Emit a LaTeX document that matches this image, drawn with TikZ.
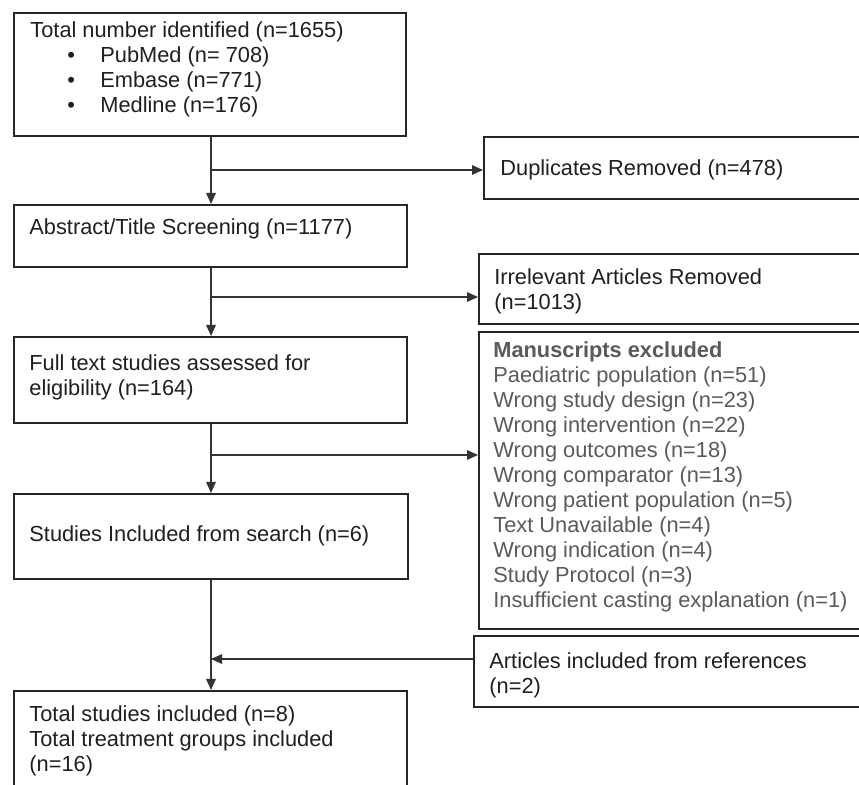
\documentclass[tikz,border=0pt]{standalone}
\usepackage{fontspec}
\setmainfont{Liberation Sans}
\usetikzlibrary{calc,arrows.meta}
\definecolor{boxline}{HTML}{262626}
\definecolor{txtgray}{HTML}{5A5A5A}
\newcommand{\topstrut}{\rule{0pt}{10pt}}
\newcommand{\itm}[1]{\hspace*{18.5pt}\makebox[16.5pt][l]{\textbullet}#1}

\begin{document}
\begin{tikzpicture}[x=0.5pt, y=-0.5pt,
	box/.style={draw=boxline, line width=1pt, rectangle, inner sep=0pt, anchor=north west},
	txt/.style={anchor=north west, inner sep=0pt, align=left, text=black!88, font=\fontsize{10.9}{12.5}\selectfont},
	link/.style={draw=black!80, line width=0.6pt},
	arr/.style={link, -{Triangle[length=5.5pt, width=4.8pt]}}]
	\useasboundingbox (0,0) rectangle (859,785);
	\clip (0,0) rectangle (859,785);

	% left column
	\node[box, minimum width=196pt, minimum height=61.5pt] (ident) at (13,12) {};
	\node[box, minimum width=196.5pt, minimum height=31pt] (screen) at (13,204) {};
	\node[box, minimum width=196.5pt, minimum height=43pt] (fulltext) at (13,336) {};
	\node[box, minimum width=197pt, minimum height=42.5pt] (search) at (13,493) {};
	\node[box, minimum width=196.5pt, minimum height=60pt] (total) at (13,690) {};

	% right column
	\node[box, minimum width=208.5pt, minimum height=31pt] (dup) at (483,136) {};
	\node[box, minimum width=211pt, minimum height=35pt] (irrel) at (478,253) {};
	\node[box, minimum width=211pt, minimum height=148.5pt] (excl) at (478,331) {};
	\node[box, minimum width=213.5pt, minimum height=35.5pt] (refs) at (473,635) {};

	% texts
	\node[txt] (identtxt) at (30,17) {\topstrut Total number identified (n=1655)\\
		\itm{PubMed (n= 708)}\\ \itm{Embase (n=771)}\\ \itm{Medline (n=176)}};
	\node[txt] (screentxt) at (29,214) {\topstrut Abstract/Title Screening (n=1177)};
	\node[txt] (fulltexttxt) at (29,350) {\topstrut Full text studies assessed for\\eligibility (n=164)};
	\node[txt] (searchtxt) at (29,521) {\topstrut Studies Included from search (n=6)};
	\node[txt] (totaltxt) at (29,701) {\topstrut Total studies included (n=8)\\Total treatment groups included\\(n=16)};
	\node[txt] (duptxt) at (500,155) {\topstrut Duplicates Removed (n=478)};
	\node[txt] (irreltxt) at (494,264) {\topstrut Irrelevant Articles Removed\\(n=1013)};
	\node[txt, text=txtgray] (excltxt) at (493,337) {\topstrut\textbf{Manuscripts excluded}\\
		Paediatric population (n=51)\\ Wrong study design (n=23)\\ Wrong intervention (n=22)\\
		Wrong outcomes (n=18)\\ Wrong comparator (n=13)\\ Wrong patient population (n=5)\\
		Text Unavailable (n=4)\\ Wrong indication (n=4)\\ Study Protocol (n=3)\\
		Insufficient casting explanation (n=1)};
	\node[txt] (refstxt) at (489,648) {\topstrut Articles included from references\\(n=2)};

	% spine points
	\coordinate (s1) at (211,170);
	\coordinate (s2) at (211,297);
	\coordinate (s3) at (211,455);
	\coordinate (s4) at (211,659);

	% connectors
	\draw[arr] (ident.south -| s1) -- (screen.north -| s1);
	\draw[arr] (s1) -- (dup.west |- s1);
	\draw[arr] (screen.south -| s1) -- (fulltext.north -| s1);
	\draw[arr] (s2) -- (irrel.west |- s2);
	\draw[arr] (fulltext.south -| s1) -- (search.north -| s1);
	\draw[arr] (s3) -- (excl.west |- s3);
	\draw[arr] (search.south -| s1) -- (total.north -| s1);
	\draw[arr] (refs.west |- s4) -- (s4);
\end{tikzpicture}
\end{document}
